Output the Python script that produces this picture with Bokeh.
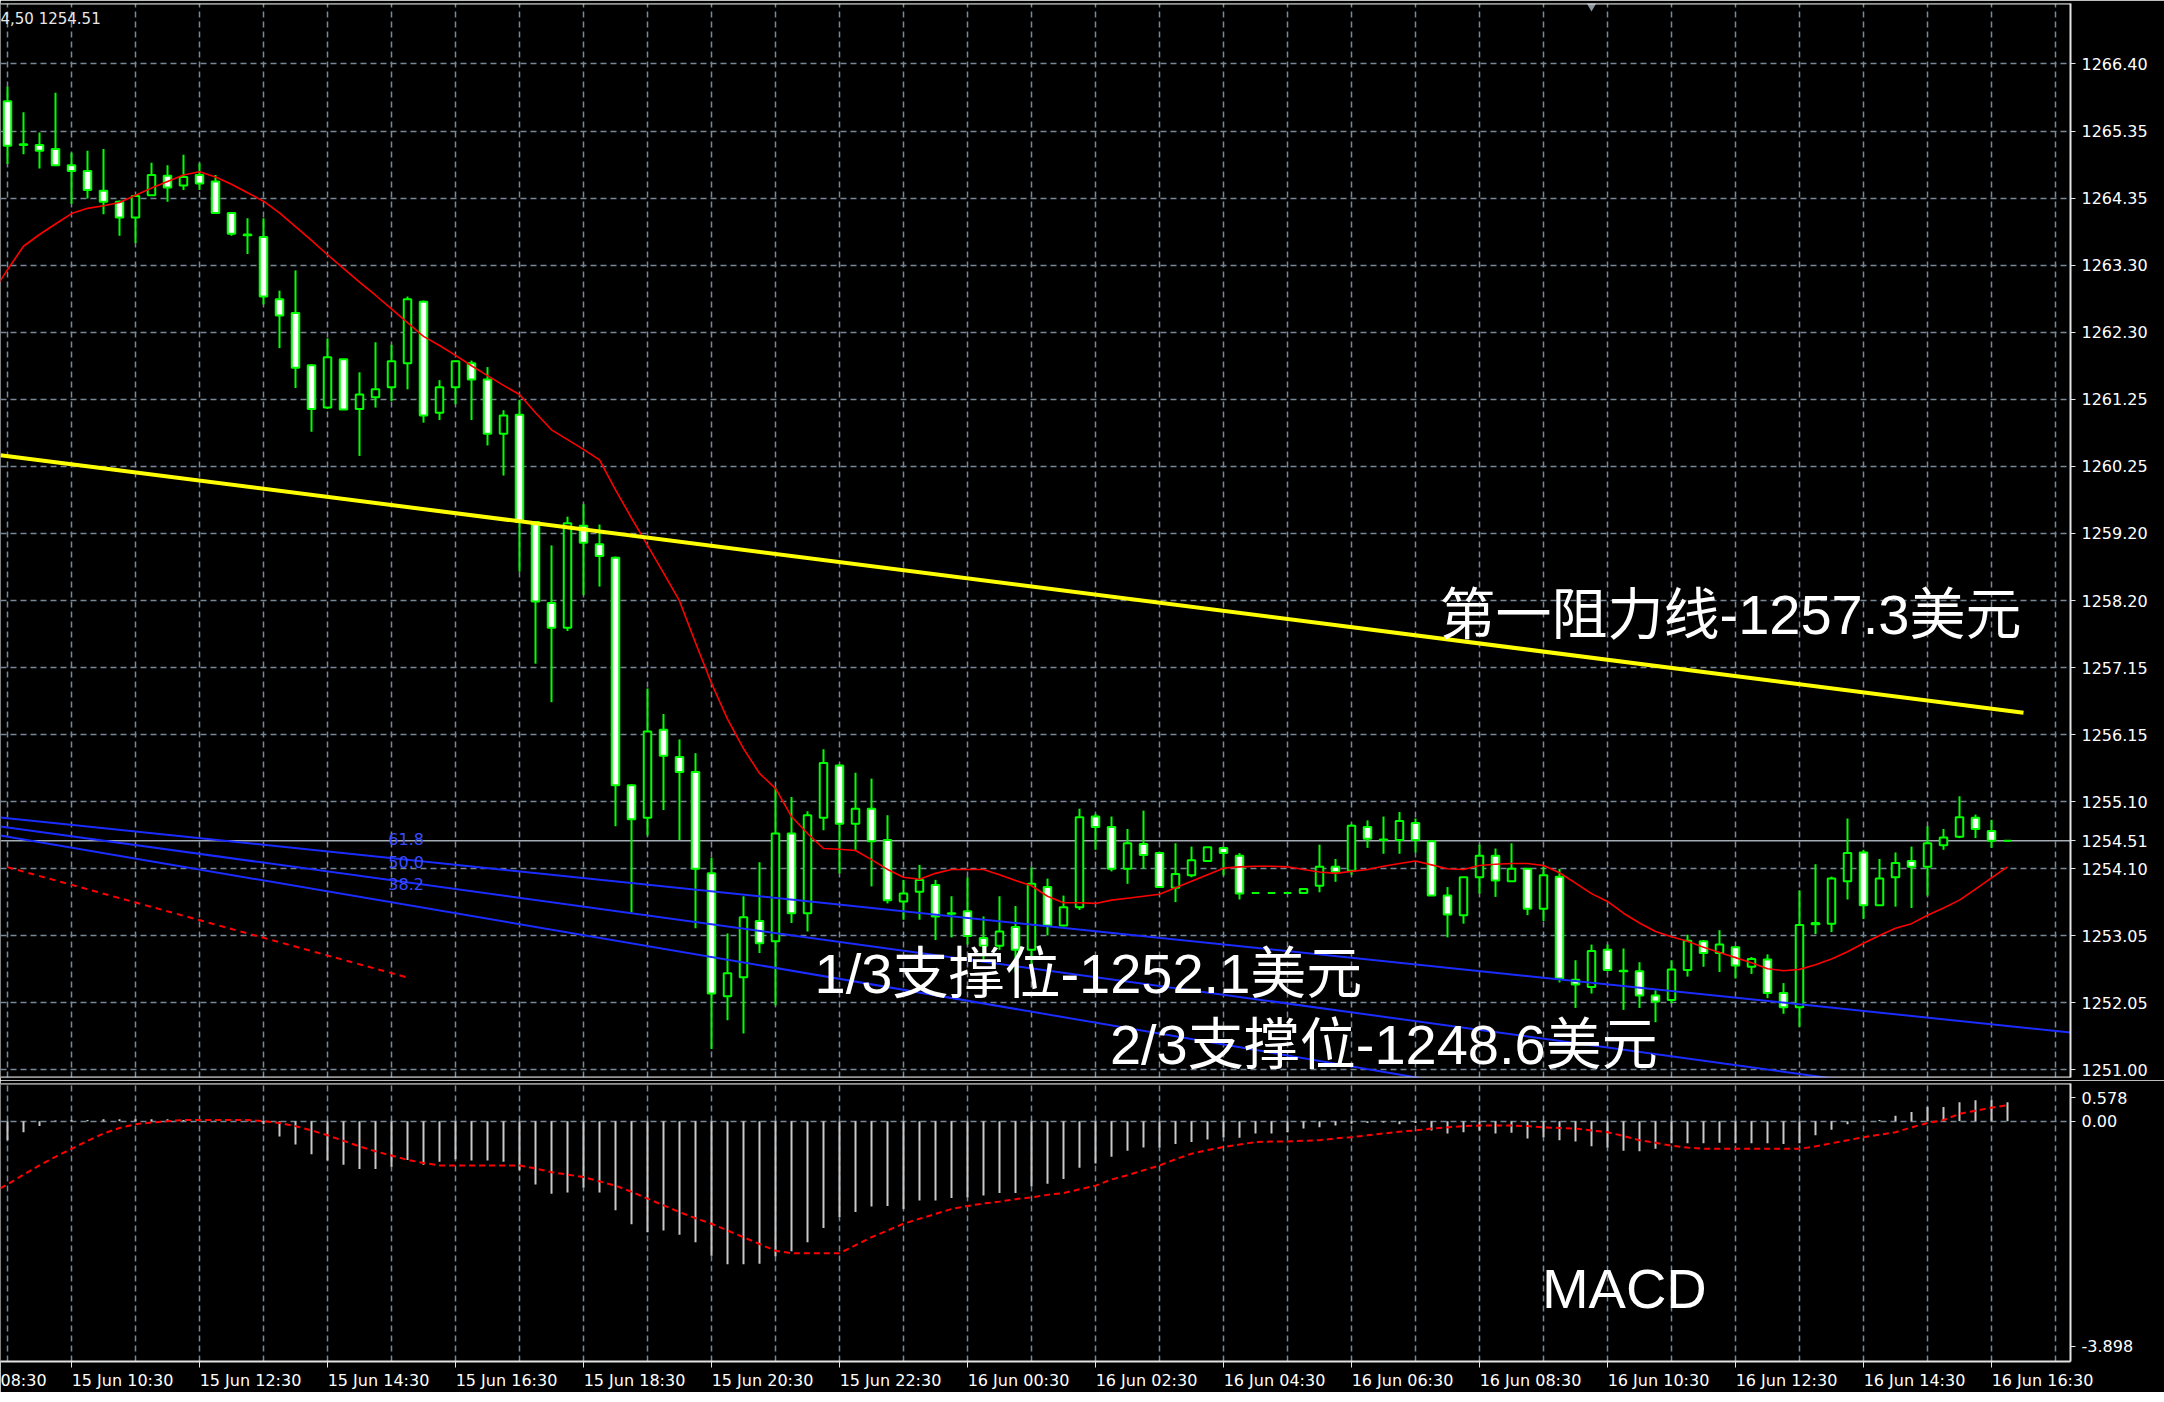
import numpy as np
from bokeh.plotting import figure
from bokeh.layouts import column
from bokeh.models import FixedTicker, Range1d, Span, Grid
from bokeh.core.properties import value
from bokeh.embed import file_html
from bokeh.resources import INLINE

# ---------------------------------------------------------------- data
# XAUUSD M15 bars, bar 0 = 15 Jun 09:30
OPEN = [1265.83, 1265.17, 1265.16, 1265.10, 1264.85, 1264.76, 1264.46, 1264.29, 1264.05, 1264.39,
        1264.69, 1264.54, 1264.70, 1264.60, 1264.12, 1263.79, 1263.75, 1262.80, 1262.59, 1261.79,
        1261.14, 1261.88, 1261.12, 1261.30, 1261.45, 1261.82, 1262.76, 1261.06, 1261.45, 1261.82,
        1261.57, 1260.74, 1261.03, 1259.39, 1258.15, 1257.77, 1259.33, 1259.05, 1258.84, 1255.36,
        1254.86, 1256.21, 1255.79, 1255.56, 1254.01, 1252.13, 1252.42, 1253.28, 1252.97, 1254.62,
        1253.40, 1254.86, 1255.66, 1254.77, 1255.00, 1254.52, 1253.58, 1253.73, 1253.83, 1253.40,
        1253.43, 1253.02, 1252.90, 1253.19, 1252.84, 1253.80, 1253.21, 1253.49, 1254.88, 1254.72,
        1254.08, 1254.46, 1254.32, 1253.79, 1253.98, 1254.20, 1254.40, 1254.28, 1253.71, 1253.71,
        1253.71, 1253.71, 1253.82, 1254.11, 1254.05, 1254.72, 1254.52, 1254.52, 1254.78, 1254.50,
        1253.67, 1253.37, 1253.95, 1254.28, 1253.89, 1254.08, 1253.47, 1253.96, 1252.38, 1252.27,
        1252.84, 1252.52, 1252.51, 1252.14, 1252.07, 1252.53, 1252.97, 1252.79, 1252.88, 1252.58,
        1252.69, 1252.18, 1251.96, 1253.23, 1253.24, 1253.89, 1254.33, 1253.52, 1253.95, 1254.20,
        1254.11, 1254.44, 1254.57, 1254.86, 1254.66, 1254.51]
HIGH = [1266.05, 1265.66, 1265.35, 1265.96, 1265.04, 1265.07, 1265.10, 1264.31, 1264.40, 1264.89,
        1264.85, 1265.01, 1264.88, 1264.70, 1264.12, 1264.04, 1264.04, 1262.93, 1263.24, 1261.80,
        1262.20, 1261.88, 1261.68, 1262.14, 1262.10, 1262.84, 1262.78, 1261.56, 1261.86, 1261.86,
        1261.76, 1261.10, 1261.26, 1259.40, 1259.03, 1259.47, 1259.66, 1259.35, 1258.86, 1255.37,
        1256.84, 1256.45, 1256.06, 1255.85, 1254.25, 1253.09, 1253.66, 1254.18, 1255.32, 1255.18,
        1254.96, 1255.91, 1255.68, 1255.55, 1255.46, 1254.90, 1253.91, 1254.14, 1253.91, 1253.66,
        1253.95, 1253.35, 1253.66, 1253.51, 1254.10, 1253.93, 1253.67, 1255.00, 1254.92, 1254.88,
        1254.69, 1254.97, 1254.34, 1254.47, 1254.42, 1254.41, 1254.42, 1254.32, 1253.71, 1253.71,
        1253.71, 1253.77, 1254.45, 1254.23, 1254.77, 1254.82, 1254.88, 1254.95, 1254.85, 1254.51,
        1253.80, 1253.96, 1254.45, 1254.39, 1254.47, 1254.09, 1254.11, 1254.08, 1252.68, 1252.92,
        1252.92, 1252.86, 1252.65, 1252.22, 1252.68, 1253.07, 1252.99, 1253.14, 1252.89, 1252.73,
        1252.77, 1252.33, 1253.75, 1254.15, 1253.96, 1254.85, 1254.37, 1254.23, 1254.33, 1254.42,
        1254.73, 1254.69, 1255.19, 1254.91, 1254.83, 1254.51]
LOW = [1264.87, 1265.02, 1264.80, 1264.84, 1264.26, 1264.34, 1264.10, 1263.77, 1263.66, 1264.38,
       1264.29, 1264.47, 1264.47, 1264.12, 1263.77, 1263.49, 1262.72, 1262.05, 1261.44, 1260.77,
       1261.12, 1261.11, 1260.40, 1261.14, 1261.24, 1261.42, 1260.91, 1260.95, 1261.19, 1260.95,
       1260.56, 1260.10, 1258.63, 1257.22, 1256.63, 1257.72, 1258.27, 1258.40, 1254.73, 1253.41,
       1254.59, 1254.98, 1254.52, 1253.17, 1251.32, 1251.76, 1251.56, 1252.79, 1251.99, 1253.25,
       1253.12, 1254.67, 1254.01, 1254.37, 1253.81, 1253.55, 1253.30, 1253.30, 1252.99, 1253.03,
       1252.92, 1252.69, 1252.84, 1252.50, 1252.57, 1253.06, 1253.20, 1253.45, 1254.37, 1254.04,
       1253.85, 1254.08, 1253.79, 1253.57, 1253.95, 1254.20, 1253.98, 1253.61, 1253.71, 1253.71,
       1253.71, 1253.71, 1253.72, 1253.88, 1253.99, 1254.40, 1254.31, 1254.31, 1254.33, 1253.67,
       1253.03, 1253.24, 1253.70, 1253.65, 1253.89, 1253.37, 1253.28, 1252.34, 1251.95, 1252.17,
       1252.51, 1251.92, 1251.95, 1251.73, 1252.02, 1252.43, 1252.58, 1252.50, 1252.40, 1252.47,
       1252.10, 1251.86, 1251.66, 1253.08, 1253.11, 1253.61, 1253.31, 1253.51, 1253.50, 1253.48,
       1253.67, 1254.37, 1254.55, 1254.55, 1254.40, 1254.51]
CLOSE = [1265.15, 1265.16, 1265.07, 1264.85, 1264.76, 1264.47, 1264.29, 1264.05, 1264.38, 1264.70,
         1264.51, 1264.67, 1264.57, 1264.12, 1263.80, 1263.78, 1262.84, 1262.55, 1261.75, 1261.12,
         1261.91, 1261.11, 1261.34, 1261.42, 1261.85, 1262.80, 1261.02, 1261.45, 1261.85, 1261.57,
         1260.74, 1261.02, 1259.39, 1258.17, 1257.77, 1259.37, 1259.07, 1258.87, 1255.36, 1254.84,
         1256.18, 1255.81, 1255.56, 1254.08, 1252.17, 1252.48, 1253.34, 1252.94, 1254.62, 1253.40,
         1254.90, 1255.70, 1254.77, 1255.00, 1254.50, 1253.60, 1253.70, 1253.91, 1253.35, 1253.39,
         1253.05, 1252.90, 1253.12, 1252.84, 1253.85, 1253.21, 1253.49, 1254.87, 1254.72, 1254.08,
         1254.47, 1254.29, 1253.80, 1254.00, 1254.21, 1254.41, 1254.32, 1253.70, 1253.71, 1253.71,
         1253.71, 1253.77, 1254.11, 1254.03, 1254.74, 1254.54, 1254.53, 1254.81, 1254.52, 1253.67,
         1253.38, 1253.95, 1254.28, 1253.90, 1254.08, 1253.47, 1253.98, 1252.40, 1252.31, 1252.82,
         1252.53, 1252.51, 1252.14, 1252.05, 1252.54, 1252.98, 1252.79, 1252.92, 1252.60, 1252.70,
         1252.18, 1251.96, 1253.22, 1253.25, 1253.93, 1254.32, 1253.52, 1253.93, 1254.17, 1254.11,
         1254.47, 1254.56, 1254.87, 1254.69, 1254.51, 1254.51]

# moving average, starting one bar before bar 0
MA_FIRST_BAR = -1
MA = [1262.88, 1263.25, 1263.61, 1263.79, 1263.95, 1264.11, 1264.19, 1264.23, 1264.28, 1264.39,
      1264.50, 1264.60, 1264.70, 1264.75, 1264.67, 1264.56, 1264.43, 1264.30, 1264.12, 1263.91,
      1263.70, 1263.48, 1263.27, 1263.06, 1262.86, 1262.65, 1262.44, 1262.23, 1262.09, 1261.94,
      1261.78, 1261.63, 1261.48, 1261.34, 1261.06, 1260.80, 1260.65, 1260.50, 1260.34, 1259.88,
      1259.45, 1259.03, 1258.61, 1258.18, 1257.54, 1256.92, 1256.37, 1255.92, 1255.54, 1255.31,
      1254.88, 1254.62, 1254.39, 1254.38, 1254.36, 1254.22, 1254.07, 1253.95, 1253.92, 1254.01,
      1254.07, 1254.07, 1254.07, 1253.99, 1253.90, 1253.82, 1253.66, 1253.56, 1253.56, 1253.55,
      1253.60, 1253.63, 1253.66, 1253.69, 1253.79, 1253.89, 1253.99, 1254.09, 1254.11, 1254.12,
      1254.12, 1254.11, 1254.07, 1254.03, 1254.01, 1254.04, 1254.07, 1254.12, 1254.16, 1254.20,
      1254.14, 1254.08, 1254.07, 1254.13, 1254.15, 1254.16, 1254.16, 1254.13, 1254.02, 1253.86,
      1253.70, 1253.58, 1253.40, 1253.25, 1253.12, 1253.04, 1252.97, 1252.88, 1252.80, 1252.72,
      1252.64, 1252.55, 1252.52, 1252.54, 1252.61, 1252.70, 1252.81, 1252.94, 1253.06, 1253.17,
      1253.24, 1253.37, 1253.48, 1253.60, 1253.77, 1253.94, 1254.11]

MACD_MAIN = [-0.31, -0.18, -0.08, 0.01, 0.02, 0.02, 0.03, 0.03, 0.03, 0.03,
             0.03, 0.02, 0.02, 0.01, 0.00, -0.01, -0.05, -0.25, -0.38, -0.54,
             -0.64, -0.71, -0.78, -0.78, -0.74, -0.63, -0.71, -0.66, -0.62, -0.64,
             -0.64, -0.66, -0.80, -1.03, -1.18, -1.16, -1.08, -1.16, -1.45, -1.68,
             -1.81, -1.78, -1.85, -1.97, -2.19, -2.33, -2.33, -2.32, -2.20, -2.12,
             -1.97, -1.74, -1.56, -1.48, -1.39, -1.38, -1.43, -1.29, -1.29, -1.25,
             -1.24, -1.21, -1.17, -1.17, -1.06, -1.02, -0.94, -0.76, -0.69, -0.58,
             -0.48, -0.43, -0.43, -0.37, -0.34, -0.30, -0.26, -0.27, -0.20, -0.20,
             -0.18, -0.12, -0.10, -0.07, -0.04, -0.03, -0.02, -0.05, -0.03, -0.15,
             -0.20, -0.18, -0.15, -0.20, -0.19, -0.28, -0.26, -0.31, -0.33, -0.41,
             -0.43, -0.48, -0.49, -0.45, -0.36, -0.36, -0.36, -0.35, -0.36, -0.36,
             -0.36, -0.37, -0.36, -0.23, -0.14, -0.05, 0.00, 0.02, 0.09, 0.15,
             0.23, 0.23, 0.31, 0.34, 0.34, 0.31]
SIGNAL_FIRST_BAR = -1
MACD_SIGNAL = [-1.17, -1.03, -0.87, -0.72, -0.58, -0.45, -0.32, -0.20, -0.11, -0.05,
               -0.02, 0.00, 0.02, 0.02, 0.02, 0.02, 0.02, 0.00, -0.03, -0.08,
               -0.15, -0.23, -0.32, -0.41, -0.49, -0.56, -0.63, -0.68, -0.72, -0.72,
               -0.72, -0.72, -0.72, -0.72, -0.77, -0.83, -0.87, -0.91, -0.98, -1.05,
               -1.15, -1.26, -1.37, -1.48, -1.58, -1.67, -1.78, -1.89, -2.00, -2.11,
               -2.15, -2.15, -2.15, -2.15, -2.02, -1.89, -1.78, -1.67, -1.59, -1.51,
               -1.43, -1.38, -1.34, -1.31, -1.27, -1.24, -1.20, -1.17, -1.11, -1.05,
               -0.95, -0.88, -0.80, -0.72, -0.62, -0.53, -0.47, -0.42, -0.38, -0.34,
               -0.33, -0.33, -0.32, -0.31, -0.28, -0.26, -0.23, -0.20, -0.17, -0.15,
               -0.12, -0.10, -0.08, -0.07, -0.07, -0.07, -0.08, -0.10, -0.11, -0.12,
               -0.15, -0.18, -0.24, -0.31, -0.35, -0.40, -0.43, -0.45, -0.45, -0.45,
               -0.45, -0.45, -0.45, -0.45, -0.41, -0.36, -0.31, -0.26, -0.22, -0.18,
               -0.10, -0.03, 0.02, 0.12, 0.17, 0.22, 0.26]

LAST_PRICE = 1254.51
HEADER_TEXT = "4,50 1254.51"

PRICE_TICK_LABELS = ["1266.40", "1265.35", "1264.35", "1263.30", "1262.30", "1261.25",
                     "1260.25", "1259.20", "1258.20", "1257.15", "1256.15", "1255.10",
                     "1254.10", "1253.05", "1252.05", "1251.00"]
PRICE_TICK_TOP = 1266.40
PRICE_TICK_BOTTOM = 1251.00
MACD_TICK_LABELS = ["0.578", "0.00", "-3.898"]

TIME_LABELS = ["15 Jun 08:30", "15 Jun 10:30", "15 Jun 12:30", "15 Jun 14:30", "15 Jun 16:30",
               "15 Jun 18:30", "15 Jun 20:30", "15 Jun 22:30", "16 Jun 00:30", "16 Jun 02:30",
               "16 Jun 04:30", "16 Jun 06:30", "16 Jun 08:30", "16 Jun 10:30", "16 Jun 12:30",
               "16 Jun 14:30", "16 Jun 16:30"]
TIME_LABEL_BARS = [-4, 4, 12, 20, 28, 36, 44, 52, 60, 68, 76, 84, 92, 100, 108, 116, 124]

# drawn objects: (bar index, price) end points
RESIST_X = [-0.44, 126.0]
RESIST_Y = [1260.41, 1256.47]
FIB_X = [-0.44, 128.94]
FIB_NAMES = ["61.8", "50.0", "38.2"]
FIB_Y = [[1254.865, 1251.574], [1254.728, 1250.368], [1254.590, 1249.174]]
OLD_TREND_X = [-0.02, 24.875]
OLD_TREND_Y = [1254.106, 1252.424]

TEXT_RESIST = "第一阻力线-1257.3美元"
TEXT_SUP1 = "1/3支撑位-1252.1美元"
TEXT_SUP2 = "2/3支撑位-1248.6美元"
TEXT_MACD = "MACD"

# ---------------------------------------------------------------- layout
PX_PER_BAR = 16.0
FRAME_W = 2070
X_START = -0.4375
X_END = X_START + FRAME_W / PX_PER_BAR
MAIN_H = 1074
MAIN_RANGE = (1250.885, 1267.326)
MACD_H = 278
MACD_RANGE = (-3.914, 0.614)
RIGHT_W = 94

BG = "black"
GRID_COLOR = "#778899"
BORDER = "#e4e4e4"
GREEN = "#00ff00"
AXIS_FONT = "DejaVu Sans"
BIG_FONT = "Liberation Sans, Noto Sans CJK SC"

x_range = Range1d(X_START, X_END)

p1 = figure(frame_width=FRAME_W, frame_height=MAIN_H, x_range=x_range,
            y_range=Range1d(*MAIN_RANGE), x_axis_location=None, y_axis_location="right",
            toolbar_location=None, output_backend="svg", title=None,
            min_border_left=0, min_border_right=RIGHT_W, min_border_top=3, min_border_bottom=3,
            background_fill_color=BG, border_fill_color=BG, outline_line_color=None)

p2 = figure(frame_width=FRAME_W, frame_height=MACD_H, x_range=x_range,
            y_range=Range1d(*MACD_RANGE), x_axis_location="below", y_axis_location="right",
            toolbar_location=None, output_backend="svg", title=None,
            min_border_left=0, min_border_right=RIGHT_W, min_border_top=3, min_border_bottom=0,
            background_fill_color=BG, border_fill_color=BG, outline_line_color=None)

grid_bars = [float(b) for b in range(0, 129, 4)]

# ---- grids
for p in (p1, p2):
    if len(p.xgrid) == 0:
        p.add_layout(Grid(dimension=0, ticker=FixedTicker(ticks=grid_bars)))
    else:
        p.xgrid.ticker = FixedTicker(ticks=grid_bars)
    for g in p.select(type=Grid):
        g.grid_line_color = GRID_COLOR
        g.grid_line_dash = "6 4"
        g.grid_line_width = 1.5

# price scale: grid levels + current price
price_ticks = [float(v) for v in np.linspace(PRICE_TICK_TOP, PRICE_TICK_BOTTOM, len(PRICE_TICK_LABELS))]
p1.yaxis.ticker = FixedTicker(ticks=price_ticks + [LAST_PRICE])
overrides = {t: s for t, s in zip(price_ticks, PRICE_TICK_LABELS)}
overrides[LAST_PRICE] = f"{LAST_PRICE:.2f}"
p1.yaxis.major_label_overrides = overrides
p1.ygrid.ticker = FixedTicker(ticks=price_ticks)

px_per_macd = MACD_H / (MACD_RANGE[1] - MACD_RANGE[0])
macd_ticks = [MACD_RANGE[1] - 14 / px_per_macd, 0.0, MACD_RANGE[0] + 15.5 / px_per_macd]
p2.yaxis.ticker = FixedTicker(ticks=macd_ticks)
p2.yaxis.major_label_overrides = {t: s for t, s in zip(macd_ticks, MACD_TICK_LABELS)}
p2.ygrid.ticker = FixedTicker(ticks=[0.0])

for p in (p1, p2):
    ax = p.yaxis[0]
    ax.axis_line_color = BORDER
    ax.axis_line_width = 2
    ax.major_tick_out = 5
    ax.major_tick_in = 0
    ax.major_tick_line_color = BORDER
    ax.minor_tick_line_color = None
    ax.major_label_standoff = 6
    ax.major_label_text_color = "white"
    ax.major_label_text_font = AXIS_FONT
    ax.major_label_text_font_size = "16px"

# time scale: MT4 puts each label to the right of its bar
LABEL_SHIFT = 3.1875
xa = p2.xaxis[0]
label_pos = [b + LABEL_SHIFT for b in TIME_LABEL_BARS[1:]]
label_txt = list(TIME_LABELS[1:])
first_pos = X_START + 23 / PX_PER_BAR          # only "08:30" of the first label shows
label_pos = [first_pos] + label_pos
label_txt = [TIME_LABELS[0].split(" ")[-1]] + label_txt
xa.ticker = FixedTicker(ticks=label_pos, minor_ticks=[float(b) for b in TIME_LABEL_BARS])
xa.major_label_overrides = {t: s for t, s in zip(label_pos, label_txt)}
xa.axis_line_color = BORDER
xa.axis_line_width = 2
xa.major_tick_out = 0
xa.major_tick_in = 0
xa.major_tick_line_color = None
xa.minor_tick_out = 6
xa.minor_tick_in = 0
xa.minor_tick_line_color = BORDER
xa.major_label_standoff = 3
xa.major_label_text_color = "white"
xa.major_label_text_font = AXIS_FONT
xa.major_label_text_font_size = "16px"

# ---- borders
p1.add_layout(Span(location=MAIN_RANGE[1], dimension="width", line_color=BORDER, line_width=2))
p1.add_layout(Span(location=MAIN_RANGE[0], dimension="width", line_color=BORDER, line_width=2))
p2.add_layout(Span(location=MACD_RANGE[1], dimension="width", line_color=BORDER, line_width=2))

# ---- current price line
p1.add_layout(Span(location=LAST_PRICE, dimension="width", line_color="#a4acb4",
                   line_width=1.5, level="underlay"))

# ---- candles
o = np.array(OPEN); h = np.array(HIGH); l = np.array(LOW); c = np.array(CLOSE)
idx = np.arange(len(o), dtype=float)
bull = c >= o
p1.segment(x0=idx, y0=l, x1=idx, y1=h, line_color=GREEN, line_width=2)
p1.vbar(x=idx[bull], bottom=o[bull], top=c[bull], width=0.47,
        fill_color="black", line_color=GREEN, line_width=2)
p1.vbar(x=idx[~bull], bottom=c[~bull], top=o[~bull], width=0.47,
        fill_color="white", line_color=GREEN, line_width=2)

# ---- moving average
p1.line(np.arange(len(MA)) + MA_FIRST_BAR, MA, line_color="#ff0000", line_width=1.6)

# ---- fibonacci lines
for ys in FIB_Y:
    p1.line(FIB_X, ys, line_color="#1a2cff", line_width=2)
fib_label_x = 23.8
fib_label_y = [1254.53, 1254.18, 1253.84]
p1.text(x=[fib_label_x] * 3, y=fib_label_y, text=FIB_NAMES, text_color="#3a4cff",
        text_font=value(AXIS_FONT), text_font_size="16px", text_baseline="middle",
        text_align="left")

# ---- resistance / old trend lines
p1.line(RESIST_X, RESIST_Y, line_color="#ffff00", line_width=4)
p1.line(OLD_TREND_X, OLD_TREND_Y, line_color="#ff0000", line_width=2, line_dash="6 5")

# ---- chart shift marker
p1.scatter([99.0], [MAIN_RANGE[1]], marker="inverted_triangle", size=14,
           fill_color="#8c96a0", line_color=None)

# ---- texts
p1.text(x=[89.5], y=[1257.97], text=[TEXT_RESIST], text_color="white",
        text_font=value(BIG_FONT), text_font_size="56px", text_baseline="middle", text_align="left")
p1.text(x=[50.44], y=[1252.47], text=[TEXT_SUP1], text_color="white",
        text_font=value(BIG_FONT), text_font_size="56px", text_baseline="middle", text_align="left")
p1.text(x=[68.9], y=[1251.39], text=[TEXT_SUP2], text_color="white",
        text_font=value(BIG_FONT), text_font_size="56px", text_baseline="middle", text_align="left")
p1.text(x=[X_START], y=[1267.09], text=[HEADER_TEXT], text_color="#e8e8e8",
        text_font=value(AXIS_FONT), text_font_size="15px", text_baseline="middle", text_align="left")

# ---- MACD pane
p2.segment(x0=idx, y0=np.zeros(len(MACD_MAIN)), x1=idx, y1=MACD_MAIN,
           line_color="#c8c8c8", line_width=2)
p2.line(np.arange(len(MACD_SIGNAL)) + SIGNAL_FIRST_BAR, MACD_SIGNAL,
        line_color="#ff0000", line_width=2, line_dash="6 4")
p2.text(x=[95.9], y=[-2.725], text=[TEXT_MACD], text_color="white",
        text_font=value(BIG_FONT), text_font_size="56px", text_baseline="middle", text_align="left")

layout = column(p1, p2, spacing=0)
open("out.html", "w").write(file_html(layout, INLINE, title="XAUUSD M15"))
